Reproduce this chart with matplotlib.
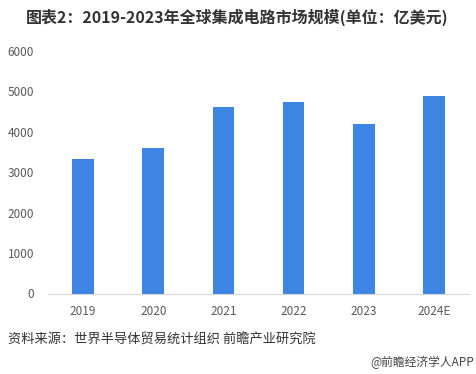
import matplotlib.pyplot as plt

plt.rcParams['font.family'] = ['Noto Sans CJK SC', 'DejaVu Sans']

years = ["2019", "2020", "2021", "2022", "2023", "2024E"]
market_size = [3330, 3600, 4610, 4740, 4200, 4880]
y_ticks = [0, 1000, 2000, 3000, 4000, 5000, 6000]

title = "图表2：2019-2023年全球集成电路市场规模(单位：亿美元)"
source = "资料来源：世界半导体贸易统计组织 前瞻产业研究院"
credit = "@前瞻经济学人APP"

fig = plt.figure(figsize=(4.76, 3.74), dpi=100)
ax = fig.add_axes([48 / 476, 1 - 293.5 / 374, (469 - 48) / 476, (293.5 - 51) / 374])

x = range(len(years))
ax.bar(x, market_size, width=0.31, color="#3E84E2", zorder=2)

ax.set_xlim(-0.5, len(years) - 0.5)
ax.set_ylim(0, 6000)
ax.set_yticks(y_ticks)
ax.set_xticks(list(x))
ax.set_xticklabels(years)

for side in ["top", "right", "left"]:
    ax.spines[side].set_visible(False)
ax.spines["bottom"].set_color("#d9d9d9")
ax.tick_params(axis="both", length=0, labelsize=8.5, colors="#595959")
ax.tick_params(axis="x", pad=8)
ax.tick_params(axis="y", pad=10)

fig.text(237 / 476, 1 - 17 / 374, title, ha="center", va="center",
         fontsize=11.5, fontweight="bold", color="#333333")
fig.text(8 / 476, 1 - 340 / 374, source, ha="left", va="center",
         fontsize=9.5, color="#333333")
fig.text(474 / 476, 1 - 362 / 374, credit, ha="right", va="center",
         fontsize=8.5, color="#444444")

fig.savefig("out.png", dpi=100)
